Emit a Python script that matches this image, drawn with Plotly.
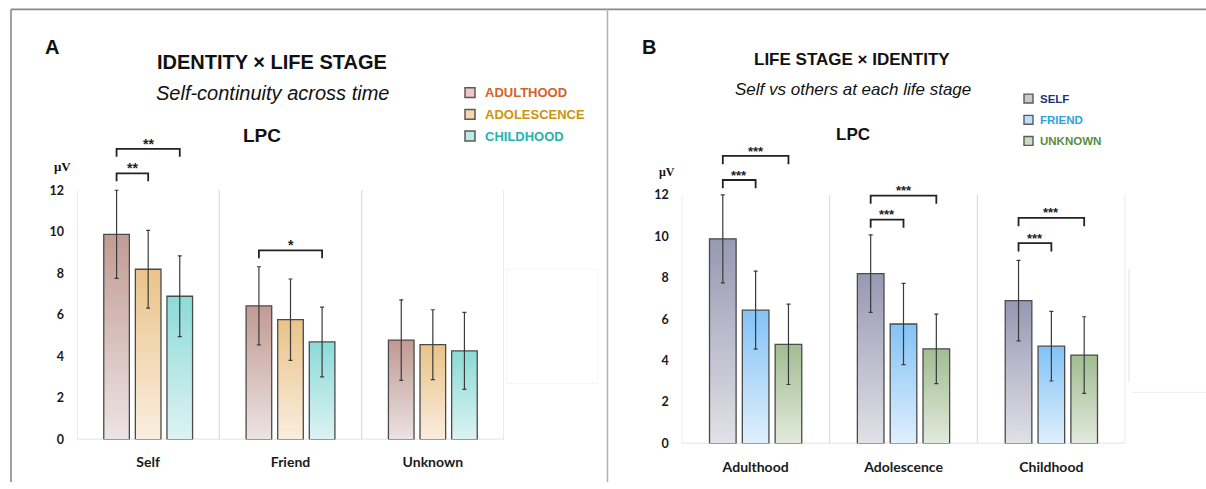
import plotly.graph_objects as go

# ---------------- data ----------------
identities = ["Self", "Friend", "Unknown"]
stages = ["Adulthood", "Adolescence", "Childhood"]

# mean LPC amplitude (µV), indexed by life stage: Adulthood, Adolescence, Childhood
self_means = [9.88, 8.20, 6.90]
friend_means = [6.44, 5.77, 4.70]
unknown_means = [4.79, 4.57, 4.27]
self_err = [2.12, 1.87, 1.94]
friend_err = [1.88, 1.96, 1.68]
unknown_err = [1.94, 1.68, 1.85]

y_ticks = [0, 2, 4, 6, 8, 10, 12]

means = [self_means, friend_means, unknown_means]
errs = [self_err, friend_err, unknown_err]

# significance brackets: (group, bar_a, bar_b, line height, label)
brackets_A = [(0, 0, 1, 12.81, "**"), (0, 0, 2, 13.99, "**"), (1, 0, 2, 9.11, "*")]
brackets_B = [(0, 0, 1, 12.72, "***"), (0, 0, 2, 13.88, "***"),
              (1, 0, 1, 10.81, "***"), (1, 0, 2, 11.97, "***"),
              (2, 0, 1, 9.67, "***"), (2, 0, 2, 10.89, "***")]

# ---------------- styles ----------------
W, H = 1206, 489
stage_grad = [("#c29c94", "#ede6e6"), ("#eac48a", "#fbefe2"), ("#8edbd8", "#e0f4f4")]
ident_grad = [("#9899b3", "#e3e3e8"), ("#84c4f6", "#e4f1fc"), ("#a3be94", "#e5ece0")]
stage_leg_fill = ["#f3c6c2", "#f5d8ae", "#bdeae8"]
ident_leg_fill = ["#c9c9d4", "#bfe0fa", "#c7dcc0"]
stage_txt = ["#d0642a", "#c99510", "#26b2b2"]
ident_txt = ["#1d3477", "#2aa3dd", "#5a8c3c"]

offsets = [-0.222, 0.0, 0.222]
bar_w = 0.18


def px(x):
    return x / W


def py(y):
    return 1 - y / H


fig = go.Figure()


def add_bar(xc, v, top, bottom, xa, ya):
    x0, x1 = xc - bar_w / 2, xc + bar_w / 2
    fig.add_trace(go.Scatter(
        x=[x0, x0, x1, x1, x0], y=[0, v, v, 0, 0], mode="lines", fill="toself",
        fillgradient=dict(type="vertical", colorscale=[[0, bottom], [1, top]], start=0, stop=v),
        line=dict(color="#4a4a4a", width=1.3), xaxis=xa, yaxis=ya,
        showlegend=False, hoverinfo="skip"))


def add_err(xs, vs, es, xa, ya):
    fig.add_trace(go.Scatter(
        x=xs, y=vs, mode="markers", marker=dict(size=1, opacity=0),
        error_y=dict(type="data", array=es, visible=True, color="#3a3a3a", thickness=1.2, width=2),
        xaxis=xa, yaxis=ya, showlegend=False, hoverinfo="skip"))


# Panel A: groups = identities, series = stages
for s in range(3):
    xs, vs, es = [], [], []
    for g in range(3):
        xc = g + offsets[s]
        v = means[g][s]
        add_bar(xc, v, stage_grad[s][0], stage_grad[s][1], "x", "y")
        xs.append(xc); vs.append(v); es.append(errs[g][s])
    add_err(xs, vs, es, "x", "y")

# Panel B: groups = stages, series = identities
for s in range(3):
    xs, vs, es = [], [], []
    for g in range(3):
        xc = g + offsets[s]
        v = means[s][g]
        add_bar(xc, v, ident_grad[s][0], ident_grad[s][1], "x2", "y2")
        xs.append(xc); vs.append(v); es.append(errs[s][g])
    add_err(xs, vs, es, "x2", "y2")

shapes = []
annotations = []

# plot frames (light gray)
for xr, yr in (("x", "y"), ("x2", "y2")):
    for xv in (-0.5, 0.5, 1.5, 2.5):
        shapes.append(dict(type="line", xref=xr, yref=yr, x0=xv, x1=xv, y0=0, y1=12,
                           line=dict(color="#dcdcdc", width=1.2), layer="below"))
    shapes.append(dict(type="line", xref=xr, yref=yr, x0=-0.5, x1=2.5, y0=0, y1=0,
                       line=dict(color="#dcdcdc", width=1.5), layer="below"))


def add_brackets(brs, xr, yr, tip, fs):
    for g, a, b, yl, lab in brs:
        xa_, xb_ = g + offsets[a], g + offsets[b]
        shapes.append(dict(type="path", xref=xr, yref=yr,
                           path=f"M {xa_} {yl - tip} L {xa_} {yl} L {xb_} {yl} L {xb_} {yl - tip}",
                           line=dict(color="#222222", width=1.8)))
        annotations.append(dict(xref=xr, yref=yr, x=(xa_ + xb_) / 2, y=yl + 0.24, text=f"<b>{lab}</b>",
                                showarrow=False, yanchor="middle",
                                font=dict(family="Liberation Sans", size=fs, color="#222222")))


add_brackets(brackets_A, "x", "y", 0.38, 14)
add_brackets(brackets_B, "x2", "y2", 0.40, 13)

# outer frame
shapes.append(dict(type="line", xref="paper", yref="paper", x0=px(11), x1=1, y0=py(9.5), y1=py(9.5),
                   line=dict(color="#8a8a8a", width=1.6)))
shapes.append(dict(type="line", xref="paper", yref="paper", x0=px(11), x1=px(11), y0=py(9.5), y1=0,
                   line=dict(color="#8a8a8a", width=1.6)))
shapes.append(dict(type="line", xref="paper", yref="paper", x0=px(607.5), x1=px(607.5), y0=py(9.5), y1=0,
                   line=dict(color="#b0b0b0", width=1.5)))
# faint artifacts
shapes.append(dict(type="rect", xref="paper", yref="paper", x0=px(507), x1=px(598), y0=py(389), y1=py(273),
                   line=dict(color="#f5f5f5", width=1)))
shapes.append(dict(type="line", xref="paper", yref="paper", x0=px(1129), x1=px(1129), y0=py(388), y1=py(273),
                   line=dict(color="#e2e2e2", width=1)))
shapes.append(dict(type="line", xref="paper", yref="paper", x0=px(1132), x1=1, y0=py(398), y1=py(398),
                   line=dict(color="#ebebeb", width=1)))


def txt(x, y, text, size, family="Liberation Sans", color="#111111", xanchor="center"):
    annotations.append(dict(xref="paper", yref="paper", x=px(x), y=py(y), text=text, showarrow=False,
                            xanchor=xanchor, yanchor="middle",
                            font=dict(family=family, size=size, color=color)))


# Panel A texts
txt(52, 48, "<b>A</b>", 20)
txt(272, 63, "<b>IDENTITY × LIFE STAGE</b>", 20)
txt(272, 94, "<i>Self-continuity across time</i>", 20)
txt(262, 137, "<b>LPC</b>", 19)
txt(62, 169, "<b>μV</b>", 13, family="Liberation Serif")
# Panel B texts
txt(649, 48, "<b>B</b>", 20)
txt(852, 60, "<b>LIFE STAGE × IDENTITY</b>", 17)
txt(853, 91, "<i>Self vs others at each life stage</i>", 17)
txt(853, 136, "<b>LPC</b>", 17)
txt(667, 175, "<b>μV</b>", 12, family="Liberation Serif")

# legends
for i, name in enumerate(stages):
    yc = 94 + 22 * i
    shapes.append(dict(type="rect", xref="paper", yref="paper", x0=px(465), x1=px(475), y0=py(yc + 5), y1=py(yc - 5),
                       fillcolor=stage_leg_fill[i], line=dict(color="#5a5a5a", width=1.5)))
    txt(483, yc, f"<b>{name.upper()}</b>", 13, color=stage_txt[i], xanchor="left")
for i, name in enumerate(identities):
    yc = 100 + 21.5 * i
    shapes.append(dict(type="rect", xref="paper", yref="paper", x0=px(1024), x1=px(1033), y0=py(yc + 4.5), y1=py(yc - 4.5),
                       fillcolor=ident_leg_fill[i], line=dict(color="#5a5a5a", width=1.4)))
    txt(1038, yc, f"<b>{name.upper()}</b>", 11.5, color=ident_txt[i], xanchor="left")

tickfont = dict(family="Lato", size=12.5, color="#1a1a1a", weight="bold")
xtickfont = dict(family="Lato", size=14, color="#1a1a1a", weight="bold")

fig.update_layout(
    width=W, height=H, margin=dict(l=0, r=0, t=0, b=0),
    paper_bgcolor="white", plot_bgcolor="white", showlegend=False,
    shapes=shapes, annotations=annotations,
    xaxis=dict(domain=[px(77), px(504)], range=[-0.5, 2.5], tickvals=[0, 1, 2], ticktext=identities,
               showgrid=False, zeroline=False, showline=False, ticks="", tickfont=xtickfont,
               ticklabelstandoff=12, fixedrange=True),
    yaxis=dict(domain=[py(446), py(120)], range=[0, (446 - 120) / 21.08], tickvals=y_ticks,
               showgrid=False, zeroline=False, showline=False, ticks="", tickfont=tickfont,
               ticklabelstandoff=12, fixedrange=True),
    xaxis2=dict(domain=[px(681.7), px(1125.3)], range=[-0.5, 2.5], tickvals=[0, 1, 2], ticktext=stages,
                showgrid=False, zeroline=False, showline=False, ticks="", tickfont=xtickfont,
                ticklabelstandoff=13, anchor="y2", fixedrange=True),
    yaxis2=dict(domain=[py(450), py(120)], range=[0, (450 - 120) / 21.02], tickvals=y_ticks,
                showgrid=False, zeroline=False, showline=False, ticks="", tickfont=tickfont,
                ticklabelstandoff=12, anchor="x2", fixedrange=True),
)

fig.write_html("out.html", config={"displayModeBar": False})
